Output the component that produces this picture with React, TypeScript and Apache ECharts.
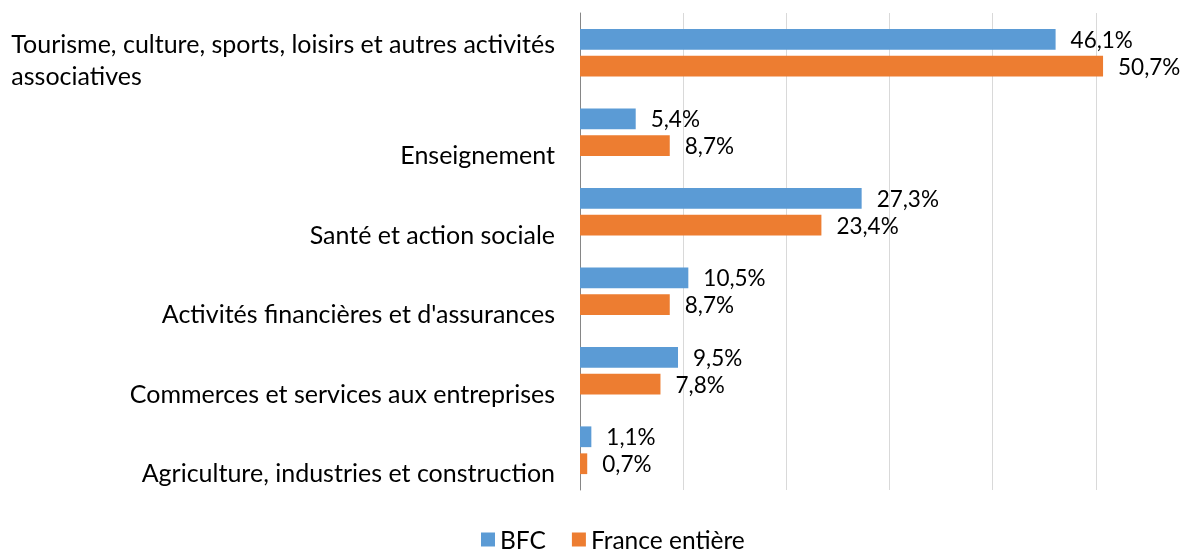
import React, { useEffect, useRef } from "react";
import * as echarts from "echarts";

const categories = [
  "Tourisme, culture, sports, loisirs et autres activités\nassociatives",
  "Enseignement",
  "Santé et action sociale",
  "Activités financières et d'assurances",
  "Commerces et services aux entreprises",
  "Agriculture, industries et construction",
];
const bfc = [46.1, 5.4, 27.3, 10.5, 9.5, 1.1];
const france = [50.7, 8.7, 23.4, 8.7, 7.8, 0.7];
const seriesNames = ["BFC", "France entière"];

const FONT = "Lato, 'Noto Sans', sans-serif";
const fmt = (v: number) => v.toFixed(1).replace(".", ",") + "%";

export default function App() {
  const ref = useRef<HTMLDivElement>(null);
  useEffect(() => {
    document.body.style.margin = "0";
    const chart = echarts.init(ref.current!, undefined, { renderer: "svg" });
    const labelStyle = {
      show: true,
      position: "right" as const,
      distance: 15,
      fontSize: 22.5,
      fontFamily: FONT,
      color: "#000",
      formatter: (p: any) => fmt(p.value),
    };
    chart.setOption({
      animation: false,
      textStyle: { fontFamily: FONT },
      grid: {
        left: 580,
        width: 619,
        top: 13,
        bottom: 63,
        containLabel: false,
        outerBoundsMode: "none",
      },
      xAxis: {
        type: "value",
        min: 0,
        max: 60,
        interval: 10,
        axisLabel: { show: false },
        axisLine: { show: false },
        axisTick: { show: false },
        splitLine: { show: true, lineStyle: { color: "#d9d9d9", width: 1 } },
      },
      yAxis: {
        type: "category",
        inverse: true,
        data: categories,
        axisLine: { show: true, lineStyle: { color: "#868686", width: 1 } },
        axisTick: { show: false },
        axisLabel: {
          interval: 0,
          margin: 25,
          align: "right",
          verticalAlign: "bottom",
          padding: [0, 0, -38, 0],
          fontSize: 25,
          lineHeight: 32,
          fontFamily: FONT,
          color: "#000",
          formatter: (v: string) =>
            v
              .split("\n")
              .map((line) => "{l|" + line + "}")
              .join("\n"),
          rich: {
            l: {
              align: "left",
              fontSize: 25,
              lineHeight: 32,
              fontFamily: FONT,
              color: "#000",
            },
          },
        },
      },
      legend: {
        data: seriesNames,
        left: 481,
        top: 527,
        padding: 0,
        icon: "rect",
        itemWidth: 14,
        itemHeight: 14,
        itemGap: 26,
        textStyle: { fontSize: 24.5, fontFamily: FONT, color: "#000" },
      },
      series: [
        {
          name: seriesNames[0],
          type: "bar",
          data: bfc,
          barGap: "30%",
          barCategoryGap: "40%",
          itemStyle: { color: "#5b9bd5" },
          label: labelStyle,
        },
        {
          name: seriesNames[1],
          type: "bar",
          data: france,
          barGap: "30%",
          barCategoryGap: "40%",
          itemStyle: { color: "#ed7d31" },
          label: labelStyle,
        },
      ],
    });
    return () => chart.dispose();
  }, []);
  return (
    <div
      ref={ref}
      style={{ position: "fixed", left: 0, top: 0, width: 1184, height: 553 }}
    />
  );
}
